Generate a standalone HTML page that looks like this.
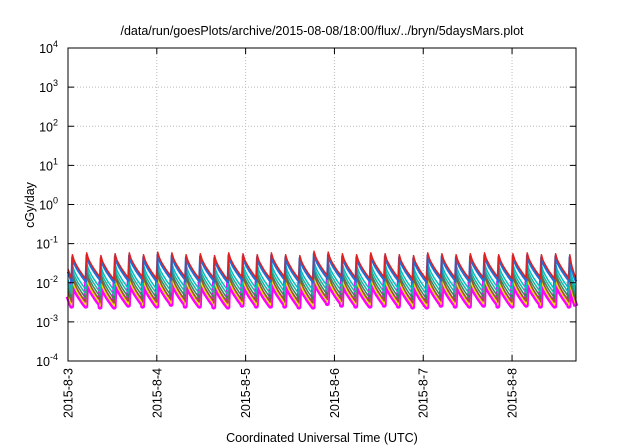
<!DOCTYPE html>
<html><head><meta charset="utf-8"><style>
body{margin:0;background:#fff;}
svg{display:block;font-family:"Liberation Sans",Arial,sans-serif;}
</style></head><body>
<svg id="chart" width="640" height="448" viewBox="0 0 640 448" xmlns="http://www.w3.org/2000/svg">
<rect width="640" height="448" fill="#fff"/>
<text x="322" y="35" font-size="12.5" text-anchor="middle">/data/run/goesPlots/archive/2015-08-08/18:00/flux/../bryn/5daysMars.plot</text>
<text transform="translate(34,205) rotate(-90)" font-size="12.5" text-anchor="middle">cGy/day</text>
<text x="322" y="442" font-size="12.5" text-anchor="middle">Coordinated Universal Time (UTC)</text>
<g id="grid"></g>
<g id="series"></g>
<g id="axes"></g>
</svg>
<script>
const yTickExps = [4,3,2,1,0,-1,-2,-3,-4];
const xTickLabels = ["2015-8-3","2015-8-4","2015-8-5","2015-8-6","2015-8-7","2015-8-8"];
const xTickDays = [0,1,2,3,4,5];
const peakTimes = [0.04,0.2,0.36,0.52,0.68,0.84,1.0,1.16,1.32,1.48,1.64,1.8,1.96,2.12,2.28,2.44,2.6,2.76,2.92,3.08,3.24,3.4,3.56,3.72,3.88,4.04,4.2,4.36,4.52,4.68,4.84,5.0,5.16,5.32,5.48,5.64];
const peakFactor = [0.9,1.0,0.85,0.95,1.0,0.9,1.05,1.0,0.9,0.95,0.85,1.0,0.95,0.9,1.0,0.9,0.85,1.1,1.05,0.95,0.9,1.0,0.95,0.9,0.85,1.0,0.95,0.9,0.95,1.0,0.9,0.95,1.0,0.9,0.95,0.9];
const seriesNames = ["magenta","yellow","brown","green","teal","cyan","blue","red"];
const seriesColors = ["#ff00ff","#e6e600","#a0522d","#2e8b57","#20b2aa","#00c0c0","#1e6fdc","#e02020"];
const seriesPeak = [0.012,0.013,0.016,0.02,0.025,0.032,0.05,0.058];
const seriesTrough = [0.0028,0.003,0.0036,0.0045,0.0058,0.0075,0.012,0.014];
const seriesWidth = [5,1.5,1.5,1.5,1.5,1.5,2.5,1.5];

const L=68,R=576,T=48,B=361,D0=0,D1=5.72;
const xS=d=>L+(d-D0)/(D1-D0)*(R-L);
const yS=v=>T+(4-Math.log10(v))/8*(B-T);
const NS="http://www.w3.org/2000/svg";
function mk(tag,attrs,parent){const e=document.createElementNS(NS,tag);for(const k in attrs)e.setAttribute(k,attrs[k]);parent.appendChild(e);return e;}
const grid=document.getElementById('grid'),axes=document.getElementById('axes'),ser=document.getElementById('series');
yTickExps.forEach(ex=>{
  const y=yS(Math.pow(10,ex));
  if(ex<4&&ex>-4){const g=mk('line',{x1:L,x2:R,y1:y,y2:y,stroke:'#bbb','stroke-dasharray':'1,2','stroke-width':1},grid);
  
  }
  const t=mk('line',{x1:L,x2:L+6,y1:y,y2:y,stroke:'#000'},axes);
  
  
  const t2=mk('line',{x1:R,x2:R-6,y1:y,y2:y,stroke:'#000'},axes);
  
  
  const tx=mk('text',{x:L-10,y:y+5,'font-size':12.5,'text-anchor':'end'},axes);
  
  
  tx.textContent='10';
  const sp=mk('tspan',{dy:-6,'font-size':9},tx);sp.textContent=String(ex);
});
xTickDays.forEach((d,i)=>{
  const x=xS(d);
  if(i>0){const g=mk('line',{x1:x,x2:x,y1:T,y2:B,stroke:'#bbb','stroke-dasharray':'1,2','stroke-width':1},grid);
  
  }
  const t=mk('line',{x1:x,x2:x,y1:B,y2:B-6,stroke:'#000'},axes);
  
  
  const t2=mk('line',{x1:x,x2:x,y1:T,y2:T+6,stroke:'#000'},axes);
  
  
  const tx=mk('text',{transform:`translate(${x+4.5},${B+7}) rotate(-90)`,'font-size':12.5,'text-anchor':'end'},axes);
  
  
  tx.textContent=xTickLabels[i];
});
const frame=mk('rect',{x:L,y:T,width:R-L,height:B-T,fill:'none',stroke:'#000','stroke-width':1},axes);


seriesNames.forEach((nm,s)=>{
  let pts=[];
  const pk=seriesPeak[s],tr=seriesTrough[s];
  pts.push([xS(D0),yS(tr*1.6)]);
  for(let k=0;k<peakTimes.length;k++){
    const t0=peakTimes[k],t1=k+1<peakTimes.length?peakTimes[k+1]:D1;
    const p=pk*peakFactor[k],tr2=tr*peakFactor[k];
    pts.push([xS(t0),yS(tr2)]);
    const n=8;
    for(let j=0;j<=n;j++){
      const f=j/n,t=t0+0.01+f*(t1-t0-0.01);
      if(t>D1)break;
      const v=Math.exp(Math.log(p)+(Math.log(tr2)-Math.log(p))*Math.pow(f,0.7));
      pts.push([xS(t),yS(v)]);
    }
  }
  const pl=mk('polyline',{points:pts.map(p=>p[0].toFixed(1)+','+p[1].toFixed(1)).join(' '),fill:'none',stroke:seriesColors[s],'stroke-width':seriesWidth[s],'stroke-linejoin':'round'},ser);
  
  
});
</script>
</body></html>
